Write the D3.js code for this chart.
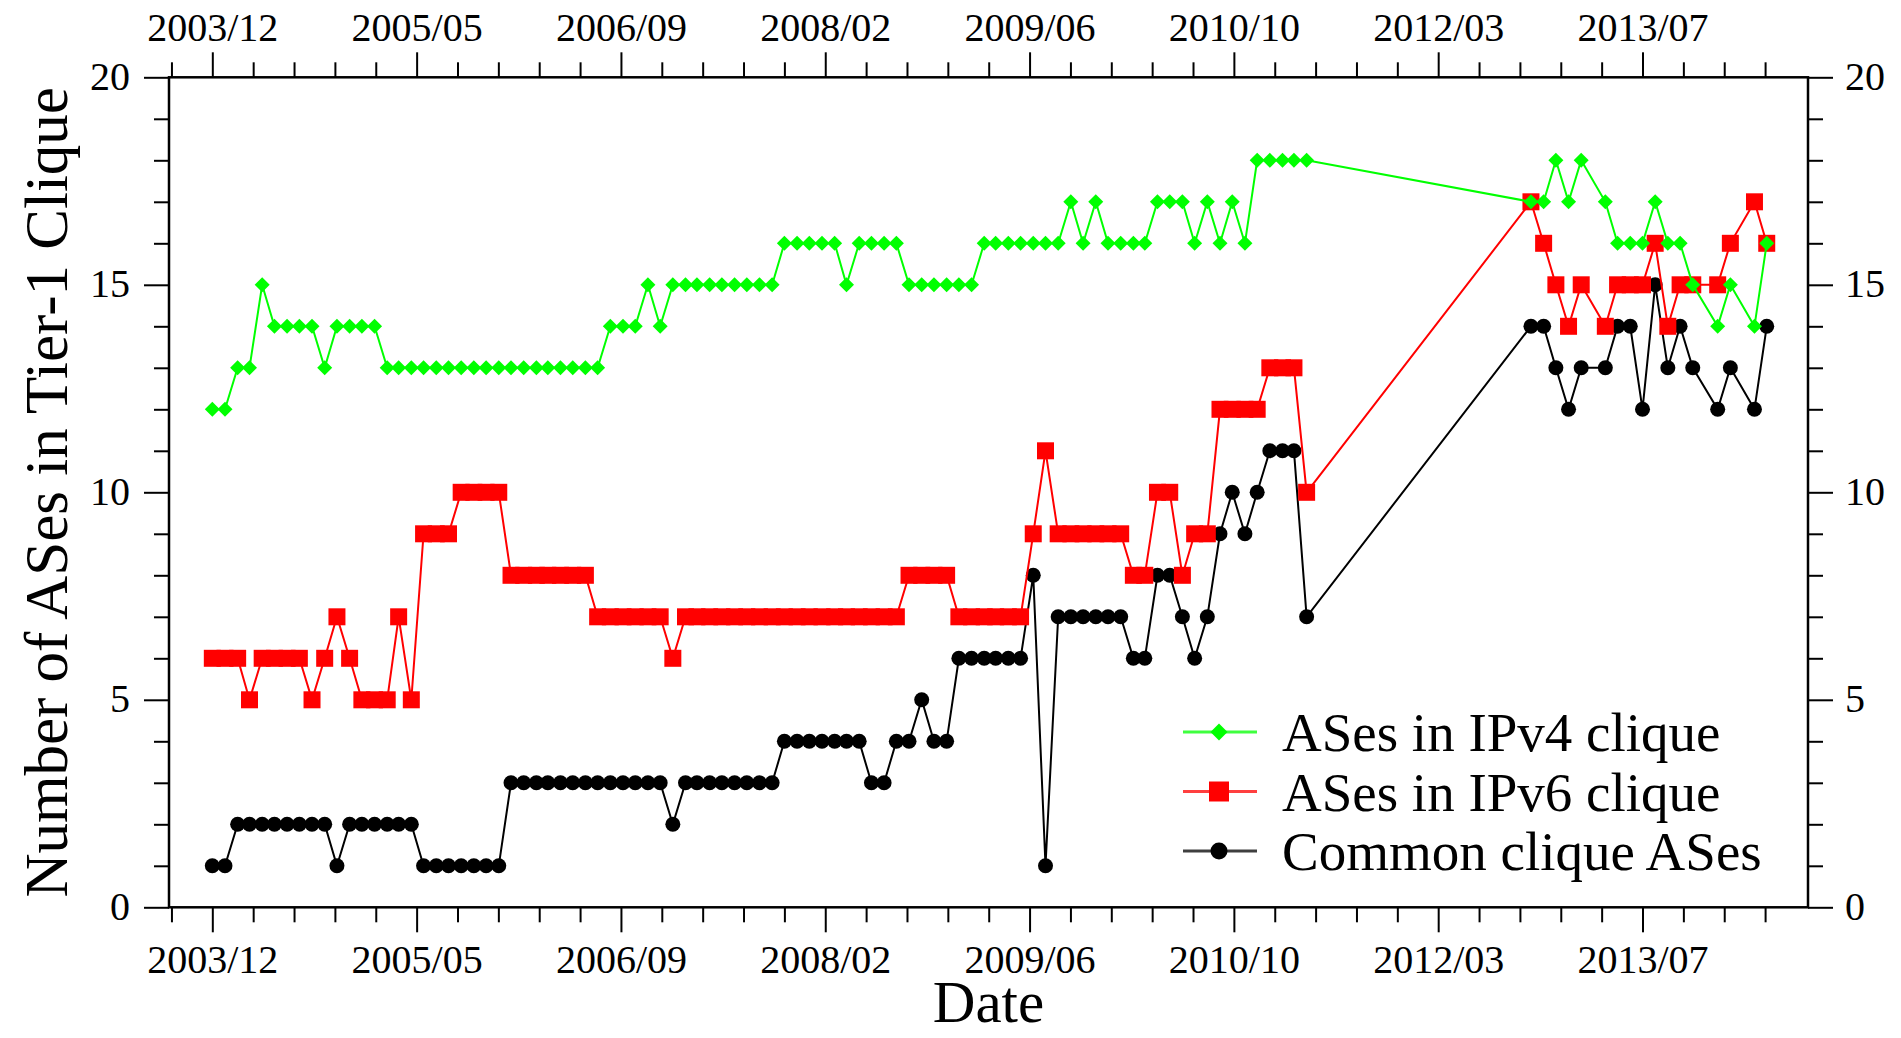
<!DOCTYPE html>
<html>
<head>
<meta charset="utf-8">
<script src="https://cdnjs.cloudflare.com/ajax/libs/d3/7.8.5/d3.min.js"></script>
<style>
    body { margin: 0; background: #fff; }
    text { font-family: "Liberation Serif", "Times New Roman", serif; fill: #000; }
</style>
</head>
<body>
<div id="chart"></div>
<script>
// Sample months (taken on the 25th), gap between 2011/04 and 2012/10
const months = [
    "2003-12",
    "2004-01", "2004-02", "2004-03", "2004-04", "2004-05", "2004-06", "2004-07", "2004-08", "2004-09", "2004-10", "2004-11", "2004-12",
    "2005-01", "2005-02", "2005-03", "2005-04", "2005-05", "2005-06", "2005-07", "2005-08", "2005-09", "2005-10", "2005-11", "2005-12",
    "2006-01", "2006-02", "2006-03", "2006-04", "2006-05", "2006-06", "2006-07", "2006-08", "2006-09", "2006-10", "2006-11", "2006-12",
    "2007-01", "2007-02", "2007-03", "2007-04", "2007-05", "2007-06", "2007-07", "2007-08", "2007-09", "2007-10", "2007-11", "2007-12",
    "2008-01", "2008-02", "2008-03", "2008-04", "2008-05", "2008-06", "2008-07", "2008-08", "2008-09", "2008-10", "2008-11", "2008-12",
    "2009-01", "2009-02", "2009-03", "2009-04", "2009-05", "2009-06", "2009-07", "2009-08", "2009-09", "2009-10", "2009-11", "2009-12",
    "2010-01", "2010-02", "2010-03", "2010-04", "2010-05", "2010-06", "2010-07", "2010-08", "2010-09", "2010-10", "2010-11", "2010-12",
    "2011-01", "2011-02", "2011-03", "2011-04",
    "2012-10", "2012-11", "2012-12", "2013-01", "2013-02", "2013-04", "2013-05", "2013-06", "2013-07",
    "2013-08", "2013-09", "2013-10", "2013-11", "2014-01", "2014-02", "2014-04", "2014-05"
];

const ipv4 = [
    12, 12, 13, 13, 15, 14, 14, 14, 14, 13, 14, 14, 14, 14,
    13, 13, 13, 13, 13, 13, 13, 13, 13, 13, 13, 13, 13, 13, 13, 13, 13, 13,
    14, 14, 14, 15, 14,
    15, 15, 15, 15, 15, 15, 15, 15, 15,
    16, 16, 16, 16, 16, 15, 16, 16, 16, 16,
    15, 15, 15, 15, 15, 15,
    16, 16, 16, 16, 16, 16, 16,
    17, 16, 17, 16, 16, 16, 16, 17, 17, 17, 16, 17, 16, 17, 16,
    18, 18, 18, 18, 18,
    17, 17, 18, 17, 18, 17, 16, 16, 16, 17, 16, 16, 15, 14, 15, 14, 16
];

const ipv6 = [
    6, 6, 6, 5, 6, 6, 6, 6, 5, 6, 7, 6, 5, 5, 5, 7, 5,
    9, 9, 9, 10, 10, 10, 10,
    8, 8, 8, 8, 8, 8, 8,
    7, 7, 7, 7, 7, 7, 6,
    7, 7, 7, 7, 7, 7, 7, 7, 7, 7, 7, 7, 7, 7, 7, 7, 7, 7,
    8, 8, 8, 8,
    7, 7, 7, 7, 7, 7,
    9, 11, 9, 9, 9, 9, 9, 9,
    8, 8, 10, 10, 8, 9, 9,
    12, 12, 12, 12, 13, 13, 13, 10,
    17, 16, 15, 14, 15, 14, 15, 15, 15, 16, 14, 15, 15, 15, 16, 17, 16
];

const common = [
    1, 1, 2, 2, 2, 2, 2, 2, 2, 2, 1, 2, 2, 2, 2, 2, 2,
    1, 1, 1, 1, 1, 1, 1,
    3, 3, 3, 3, 3, 3, 3, 3, 3, 3, 3, 3, 3,
    2,
    3, 3, 3, 3, 3, 3, 3, 3,
    4, 4, 4, 4, 4, 4, 4,
    3, 3, 4, 4, 5, 4, 4,
    6, 6, 6, 6, 6, 6,
    8, 1,
    7, 7, 7, 7, 7, 7,
    6, 6, 8, 8, 7, 6, 7, 9, 10, 9, 10, 11, 11, 11, 7,
    14, 14, 13, 12, 13, 13, 14, 14, 12, 15, 13, 14, 13, 12, 13, 12, 14
];

const seriesNames = ["ASes in IPv4 clique", "ASes in IPv6 clique", "Common clique ASes"];
const yTicks = [0, 5, 10, 15, 20];
// x ticks: every 500 days from the first sample, minor every 100 days
const majorDays = [0, 500, 1000, 1500, 2000, 2500, 3000, 3500];

function main() {
    const W = 1901, H = 1038;
    const plot = { left: 169, right: 1808, top: 77.3, bottom: 907.3 };

    const parse = d3.timeParse("%Y-%m-%d");
    const dates = months.map(m => parse(m + "-25"));
    const origin = dates[0];

    const svg = d3.select("#chart")
        .append("svg")
        .attr("width", W)
        .attr("height", H);

    const xScale = d3.scaleTime()
        .domain([d3.timeDay.offset(origin, -106), d3.timeDay.offset(origin, 3905)])
        .range([plot.left, plot.right]);

    const yScale = d3.scaleLinear()
        .domain([0, 20])
        .range([plot.bottom, plot.top]);

    const majorDates = majorDays.map(d => d3.timeDay.offset(origin, d));
    const minorDates = d3.range(-100, 3801, 100)
        .filter(d => majorDays.indexOf(d) < 0)
        .map(d => d3.timeDay.offset(origin, d));
    const yMinor = d3.range(0, 21).filter(v => v % 5 != 0);
    const fmt = d3.timeFormat("%Y/%m");

    function styleAxis(g) {
        g.select(".domain").remove();
        g.attr("font-family", null).attr("font-size", null);
        g.selectAll("line").attr("stroke", "#000").attr("stroke-width", 2);
        g.selectAll("text").style("font-size", "40px");
    }

    // bottom axis
    svg.append("g")
        .attr("transform", "translate(0," + plot.bottom + ")")
        .call(d3.axisBottom(xScale).tickValues(minorDates).tickSize(15).tickFormat(""))
        .call(styleAxis);
    svg.append("g")
        .attr("transform", "translate(0," + plot.bottom + ")")
        .call(d3.axisBottom(xScale).tickValues(majorDates).tickSize(25).tickPadding(12).tickFormat(fmt))
        .call(styleAxis);

    // top axis
    svg.append("g")
        .attr("transform", "translate(0," + plot.top + ")")
        .call(d3.axisTop(xScale).tickValues(minorDates).tickSize(15).tickFormat(""))
        .call(styleAxis);
    svg.append("g")
        .attr("transform", "translate(0," + plot.top + ")")
        .call(d3.axisTop(xScale).tickValues(majorDates).tickSize(25).tickPadding(11).tickFormat(fmt))
        .call(styleAxis);

    // left axis
    svg.append("g")
        .attr("transform", "translate(" + plot.left + ",0)")
        .call(d3.axisLeft(yScale).tickValues(yMinor).tickSize(15).tickFormat(""))
        .call(styleAxis);
    svg.append("g")
        .attr("transform", "translate(" + plot.left + ",0)")
        .call(d3.axisLeft(yScale).tickValues(yTicks).tickSize(25).tickPadding(14))
        .call(styleAxis)
        .selectAll("text").attr("dy", "0.3em");

    // right axis
    svg.append("g")
        .attr("transform", "translate(" + plot.right + ",0)")
        .call(d3.axisRight(yScale).tickValues(yMinor).tickSize(15).tickFormat(""))
        .call(styleAxis);
    svg.append("g")
        .attr("transform", "translate(" + plot.right + ",0)")
        .call(d3.axisRight(yScale).tickValues(yTicks).tickSize(25).tickPadding(12))
        .call(styleAxis)
        .selectAll("text").attr("dy", "0.3em");

    // frame
    svg.append("rect")
        .attr("x", plot.left)
        .attr("y", plot.top)
        .attr("width", plot.right - plot.left)
        .attr("height", plot.bottom - plot.top)
        .attr("fill", "none")
        .attr("stroke", "#000")
        .attr("stroke-width", 2.5);

    // axis titles
    svg.append("text")
        .text("Number of ASes in Tier-1 Clique")
        .attr("transform", "translate(67," + ((plot.top + plot.bottom) / 2) + ") rotate(-90)")
        .attr("text-anchor", "middle")
        .style("font-size", "61px");

    svg.append("text")
        .text("Date")
        .attr("x", (plot.left + plot.right) / 2)
        .attr("y", 1022)
        .attr("text-anchor", "middle")
        .style("font-size", "59px");

    // marker shapes
    const diamond = s => "M0," + (-s) + "L" + s + ",0L0," + s + "L" + (-s) + ",0Z";
    const square = s => "M" + (-s) + "," + (-s) + "H" + s + "V" + s + "H" + (-s) + "Z";
    const circle = s => d3.symbol(d3.symbolCircle, Math.PI * s * s)();

    const series = [
        { name: seriesNames[2], values: common, color: "#000000", shape: circle, size: 7.5, lsize: 8.5 },
        { name: seriesNames[1], values: ipv6, color: "#ff0000", shape: square, size: 8.5, lsize: 10 },
        { name: seriesNames[0], values: ipv4, color: "#00ff00", shape: diamond, size: 7.5, lsize: 8.5 }
    ];

    const line = d3.line()
        .x(d => xScale(d.date))
        .y(d => yScale(d.value));

    series.forEach(s => {
        const pts = s.values.map((v, i) => ({ date: dates[i], value: v }));
        const g = svg.append("g");
        g.append("path")
            .datum(pts)
            .attr("d", line)
            .attr("fill", "none")
            .attr("stroke", s.color)
            .attr("stroke-width", 2);
        g.selectAll("path.pt")
            .data(pts)
            .enter()
            .append("path")
            .attr("class", "pt")
            .attr("transform", d => "translate(" + xScale(d.date) + "," + yScale(d.value) + ")")
            .attr("d", s.shape(s.size))
            .attr("fill", s.color);
    });

    // legend
    const legend = svg.append("g");
    const legendRows = [series[2], series[1], series[0]];
    legendRows.forEach((s, i) => {
        const ly = 732 + i * 59.5;
        legend.append("line")
            .attr("x1", 1183).attr("x2", 1257)
            .attr("y1", ly).attr("y2", ly)
            .attr("stroke", s.color)
            .attr("stroke-width", 3)
            .attr("opacity", 0.75);
        legend.append("path")
            .attr("transform", "translate(1219," + ly + ")")
            .attr("d", s.shape(s.lsize))
            .attr("fill", s.color);
        legend.append("text")
            .text(s.name)
            .attr("x", 1282)
            .attr("y", ly)
            .attr("dy", "0.35em")
            .style("font-size", "55px");
    });
}
window.addEventListener("load", main);
</script>
</body>
</html>
